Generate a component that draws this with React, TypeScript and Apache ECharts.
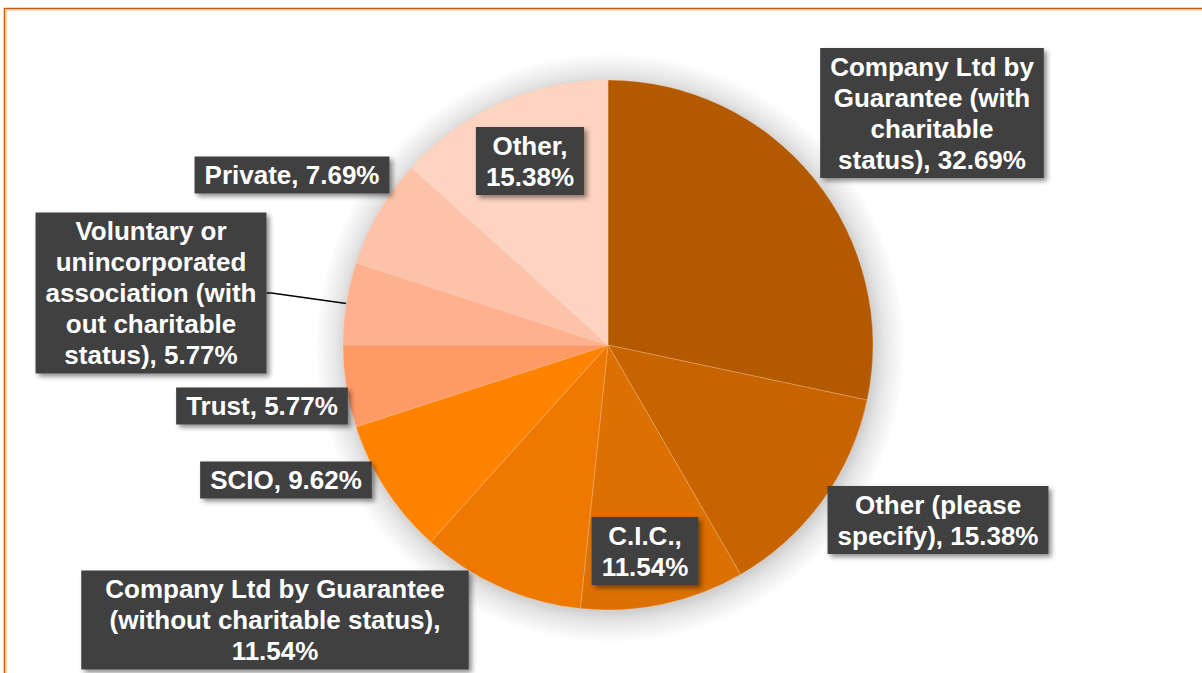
import React, { useEffect, useRef } from "react";
import * as echarts from "echarts";

// ---- data ----
const categories = [
  "Company Ltd by Guarantee (with charitable status)",
  "Other (please specify)",
  "C.I.C.",
  "Company Ltd by Guarantee (without charitable status)",
  "SCIO",
  "Trust",
  "Voluntary or unincorporated association (with out charitable status)",
  "Private",
  "Other",
];
const values = [32.69, 15.38, 11.54, 11.54, 9.62, 5.77, 5.77, 7.69, 15.38];

// label text as wrapped in the reference (name part, separator before the value)
const labelNames = [
  "Company Ltd by\nGuarantee (with\ncharitable\nstatus)",
  "Other (please\nspecify)",
  "C.I.C.",
  "Company Ltd by Guarantee\n(without charitable status)",
  "SCIO",
  "Trust",
  "Voluntary or\nunincorporated\nassociation (with\nout charitable\nstatus)",
  "Private",
  "Other",
];
const labelSeparators = [", ", ", ", ",\n", ",\n", ", ", ", ", ", ", ", ", ",\n"];

const colors = [
  "#B35900",
  "#C86400",
  "#DC7000",
  "#EE7800",
  "#FF8300",
  "#FF9966",
  "#FFB08F",
  "#FDC3AA",
  "#FDD3C1",
];

// label box centres (layout)
const labelCenters: [number, number][] = [
  [932, 113],
  [938, 520],
  [645, 551],
  [275, 620],
  [286, 480],
  [262, 406],
  [151, 293],
  [292, 175],
  [530, 161],
];
const labelPadX = [10, 10, 10, 24, 10, 10, 10, 10, 10];

export default function App() {
  const ref = useRef<HTMLDivElement>(null);
  useEffect(() => {
    if (!ref.current) return;
    const chart = echarts.init(ref.current, null, { renderer: "svg" });
    const cx = 608;
    const cy = 345;
    const radius = 265;
    const glow = 30;
    const R = radius + glow;
    const inner = radius / R;
    chart.setOption({
      animation: false,
      backgroundColor: "#ffffff",
      graphic: [
        {
          type: "rect",
          shape: { x: 4.5, y: 8.5, width: 1400, height: 900 },
          style: { fill: "none", stroke: "#C55A11", lineWidth: 1.5 },
          z: 0,
        },
        {
          type: "rect",
          shape: { x: 6, y: 10, width: 1400, height: 900 },
          style: { fill: "none", stroke: "#F4B183", lineWidth: 1 },
          z: 0,
        },
        {
          type: "circle",
          silent: true,
          shape: { cx: cx + 2, cy: cy + 3, r: R },
          style: {
            fill: {
              type: "radial",
              x: 0.5,
              y: 0.5,
              r: 0.5,
              colorStops: [
                { offset: 0, color: "rgba(0,0,0,0.25)" },
                { offset: inner - 0.02, color: "rgba(0,0,0,0.22)" },
                { offset: inner + 0.03, color: "rgba(0,0,0,0.1)" },
                { offset: 1, color: "rgba(0,0,0,0)" },
              ],
            },
          },
          z: 0,
        },
      ],
      series: [
        {
          type: "pie",
          center: [cx, cy],
          radius,
          z: 2,
          startAngle: 90,
          clockwise: true,
          avoidLabelOverlap: false,
          itemStyle: {
            borderColor: "rgba(255,210,170,0.6)",
            borderWidth: 0.5,
          },
          label: {
            show: true,
            position: "outside",
            formatter: (p: any) =>
              labelNames[p.dataIndex] + labelSeparators[p.dataIndex] + values[p.dataIndex].toFixed(2) + "%",
            color: "#ffffff",
            fontFamily: "'Liberation Sans', Arial, sans-serif",
            fontWeight: "bold",
            fontSize: 26,
            lineHeight: 31,
            align: "center",
            backgroundColor: "#414141",
            padding: [3, 10, 3, 10],
            shadowBlur: 5,
            shadowOffsetX: 3,
            shadowOffsetY: 3,
            shadowColor: "rgba(0,0,0,0.45)",
          },
          labelLine: { show: false, lineStyle: { color: "#000000", width: 1.5 } },
          labelLayout: (params: any) => {
            const c = labelCenters[params.dataIndex];
            return { x: c[0], y: c[1], align: "center", verticalAlign: "middle" };
          },
          data: values.map((v, i) => ({
            value: v,
            name: categories[i],
            itemStyle: { color: colors[i] },
            label: { padding: [3, labelPadX[i], 3, labelPadX[i]] },
            labelLine: { show: i === 6, length: 5, length2: 5 },
          })),
        },
      ],
    });
    return () => chart.dispose();
  }, []);
  return (
    <div
      ref={ref}
      style={{ position: "absolute", left: 0, top: 0, width: 1202, height: 673 }}
    />
  );
}
